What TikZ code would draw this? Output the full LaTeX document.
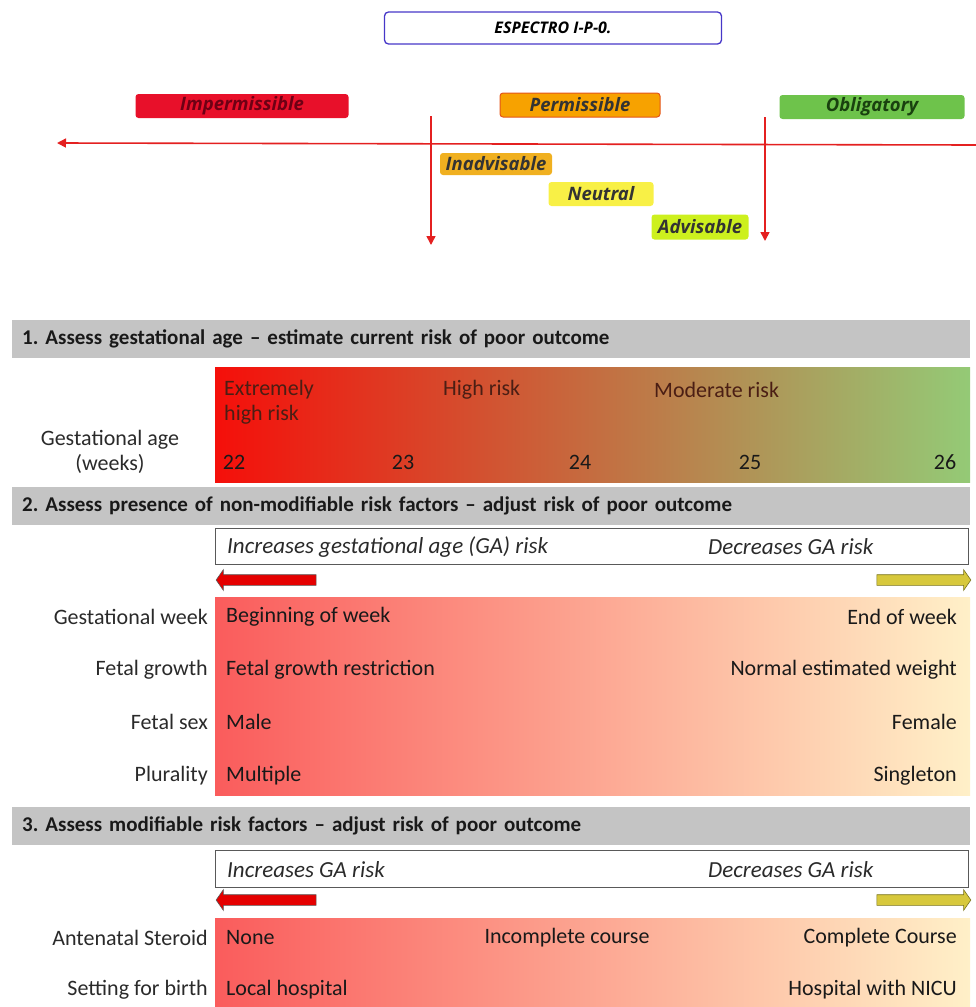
\documentclass[tikz,border=0pt]{standalone}
\usepackage{fontspec}
\setmainfont{Carlito}
\newfontfamily\tagfont{Open Sans}
\frenchspacing
\usetikzlibrary{arrows.meta,shapes.arrows}

\definecolor{linered}{RGB}{228,32,32}
\definecolor{headgray}{RGB}{196,196,196}
\definecolor{txtgray}{RGB}{42,42,42}
\definecolor{darkbrown}{RGB}{75,30,20}

\begin{document}
\begin{tikzpicture}
	[
	x=1pt, y=-1pt,
	every node/.style={font=\fontsize{22}{25}\selectfont, text=txtgray, inner sep=0pt},
	tag/.style={rounded corners=3pt, minimum height=24pt, font=\tagfont\fontsize{18.5}{20}\selectfont\bfseries\itshape},
	header/.style={fill=headgray, anchor=west, minimum height=38pt, text width=938pt, inner xsep=10pt, align=left, text=black!90, font=\fontsize{21}{23}\selectfont\bfseries},
	hint/.style={anchor=west, font=\fontsize{23}{25}\selectfont\itshape},
	redarrow/.style={draw=linered, line width=1.6pt, -{Triangle[width=9pt,length=9pt]}},
	riskup/.style={single arrow, shape border rotate=180, fill=red!90!black, draw=gray!70!black, line width=0.6pt, inner ysep=5pt, inner xsep=0pt, minimum height=100pt, single arrow head extend=5pt, single arrow tip angle=110},
	riskdown/.style={single arrow, fill={rgb,255:red,215;green,200;blue,60}, draw={rgb,255:red,120;green,115;blue,30}, line width=0.6pt, inner ysep=5pt, inner xsep=0pt, minimum height=94pt, single arrow head extend=5pt, single arrow tip angle=110}
	]
		\useasboundingbox (0,0) rectangle (976,1007);

		% spectrum
		\node (title) [draw={rgb,255:red,70;green,55;blue,200}, line width=1.3pt, rounded corners=4pt, minimum width=337pt, minimum height=32pt, text=black, font=\tagfont\fontsize{16}{18}\selectfont\bfseries\itshape] at (553, 28) {ESPECTRO I-P-0.};
		\node (imp) [tag, fill={rgb,255:red,232;green,16;blue,42}, minimum width=213pt, text={rgb,255:red,110;green,0;blue,20}] at (242, 106) {Impermissible};
		\node (perm) [tag, fill={rgb,255:red,247;green,162;blue,0}, draw={rgb,255:red,228;green,85;blue,25}, line width=1pt, minimum width=160pt, text=black!80] at (580, 105) {Permissible};
		\node (oblig) [tag, fill={rgb,255:red,110;green,195;blue,75}, minimum width=185pt, text={rgb,255:red,25;green,65;blue,15}] at (872, 107) {Obligatory};
		\node (inadv) [tag, fill={rgb,255:red,240;green,176;blue,32}, minimum width=112pt, minimum height=22pt, text=black!80] at (496, 164) {Inadvisable};
		\node (neut) [tag, fill={rgb,255:red,248;green,240;blue,70}, minimum width=105pt, text=black!80] at (601, 194) {Neutral};
		\node (advis) [tag, fill={rgb,255:red,205;green,240;blue,30}, minimum width=97pt, minimum height=25pt, text=black!80] at (700, 227) {Advisable};

		\coordinate (axisR) at (976, 145);
		\coordinate (axisL) at (57, 143);
		\coordinate (cut1) at (431, 116);
		\coordinate (cut1end) at (431, 245);
		\coordinate (cut2) at (765, 117);
		\coordinate (cut2end) at (765, 241);
		\foreach \from/\to in {axisR/axisL,cut1/cut1end,cut2/cut2end} \draw [redarrow] (\from) -- (\to);

		% step 1
		\node (h1) [header] at (12, 339) {1. Assess gestational age -- estimate current risk of poor outcome};
		\shade [left color={rgb,255:red,245;green,15;blue,10}, middle color={rgb,255:red,205;green,110;blue,75}, right color={rgb,255:red,148;green,202;blue,118}] (215, 367) rectangle (970, 482);
		\node (ga) [align=center] at (110, 452) {Gestational age\\(weeks)};
		\node (xh) [anchor=west, align=left, text=darkbrown] at (224, 402) {Extremely\\high risk};
		\node (hi) [anchor=west, text=darkbrown] at (443, 390) {High risk};
		\node (mo) [anchor=west, text=darkbrown] at (654, 390) {Moderate risk};
		\foreach \wk/\x in {22/234,23/403,24/580,25/750,26/945}
			\node (w\wk) [text=black!90] at (\x, 462) {\wk};

		% step 2
		\node (h2) [header] at (12, 506) {2. Assess presence of non-modifiable risk factors -- adjust risk of poor outcome};
		\node (box2) [draw=black!65, line width=0.8pt, minimum width=753pt, minimum height=36pt] at (591.5, 546) {};
		\node (up2) [hint] at (227, 547) {Increases gestational age (GA) risk};
		\node (dn2) [hint] at (708, 547) {Decreases GA risk};
		\node (ar2l) [riskup] at (268, 580) {};
		\node (ar2r) [riskdown] at (922, 580) {};
		\shade [left color={rgb,255:red,250;green,92;blue,92}, middle color={rgb,255:red,252;green,152;blue,135}, right color={rgb,255:red,255;green,240;blue,200}] (215, 597) rectangle (970, 795);
		\foreach \lab/\lo/\hi/\y/\n in {Gestational week/Beginning of week/End of week/617/1,
				Fetal growth/Fetal growth restriction/Normal estimated weight/670/2,
				Fetal sex/Male/Female/722/3,
				Plurality/Multiple/Singleton/776/4}
		{
			\node (f\n) [anchor=east] at (208, \y) {\lab};
			\node (fl\n) [anchor=west, text=black!90] at (226, \y) {\lo};
			\node (fr\n) [anchor=east, text=black!90] at (957, \y) {\hi};
		}

		% step 3
		\node (h3) [header] at (12, 826) {3. Assess modifiable risk factors -- adjust risk of poor outcome};
		\node (box3) [draw=black!65, line width=0.8pt, minimum width=753pt, minimum height=37pt] at (591.5, 868.5) {};
		\node (up3) [hint] at (227, 870) {Increases GA risk};
		\node (dn3) [hint] at (708, 870) {Decreases GA risk};
		\node (ar3l) [riskup] at (268, 900) {};
		\node (ar3r) [riskdown] at (922, 900) {};
		\shade [left color={rgb,255:red,250;green,92;blue,92}, middle color={rgb,255:red,252;green,152;blue,135}, right color={rgb,255:red,255;green,240;blue,200}] (215, 918) rectangle (970, 1007);
		\node (m1) [anchor=east] at (208, 938) {Antenatal Steroid};
		\node (ml1) [anchor=west, text=black!90] at (226, 938) {None};
		\node (mc1) [text=black!90] at (567, 938) {Incomplete course};
		\node (mr1) [anchor=east, text=black!90] at (957, 938) {Complete Course};
		\node (m2) [anchor=east] at (208, 990) {Setting for birth};
		\node (ml2) [anchor=west, text=black!90] at (226, 990) {Local hospital};
		\node (mr2) [anchor=east, text=black!90] at (957, 990) {Hospital with NICU};
	\end{tikzpicture}
\end{document}
